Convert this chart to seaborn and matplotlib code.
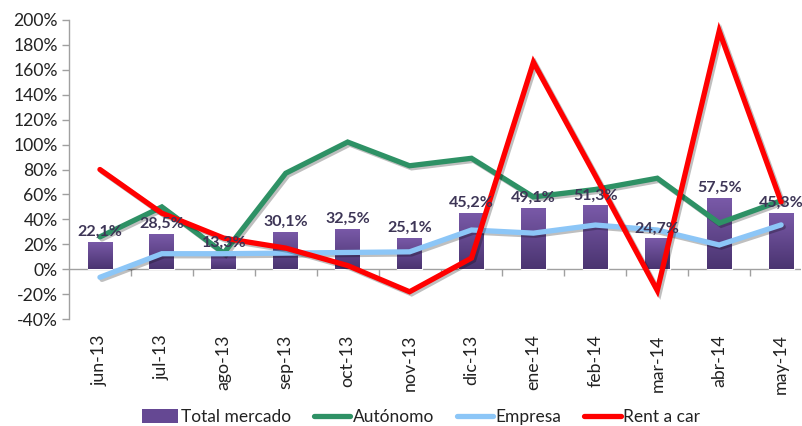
import numpy as np
import pandas as pd
import matplotlib
matplotlib.use("Agg")
import matplotlib.pyplot as plt
import matplotlib.patheffects as pe
from matplotlib.lines import Line2D
from matplotlib.patches import Patch
import seaborn as sns

months = ["jun-13", "jul-13", "ago-13", "sep-13", "oct-13", "nov-13",
          "dic-13", "ene-14", "feb-14", "mar-14", "abr-14", "may-14"]
total_mercado = [22.1, 28.5, 13.3, 30.1, 32.5, 25.1, 45.2, 49.1, 51.3, 24.7, 57.5, 45.3]
autonomo = [26, 50, 13, 77, 102, 83, 89, 58, 64, 73, 37, 55]
empresa = [-6.4, 12.5, 12.5, 13, 13.5, 14, 31.5, 29, 35.5, 31.5, 19.5, 35.6]
rent_a_car = [80, 45, 25, 17, 3, -18, 9, 166, 75, -17, 191, 54]
y_ticks = list(range(-40, 201, 20))

sns.set_theme(style="white")
plt.rcParams["font.family"] = ["Lato", "DejaVu Sans"]

df = pd.DataFrame({"month": months, "pos": np.arange(len(months)),
                   "Total mercado": total_mercado, "Autónomo": autonomo,
                   "Empresa": empresa, "Rent a car": rent_a_car})

fig = plt.figure(figsize=(8.02, 4.26), dpi=100)
ax = fig.add_axes([0.086, 0.2507, 0.9127, 0.7028])

bar_color = "#654893"
sns.barplot(data=df, x="month", y="Total mercado", color=bar_color,
            width=0.4, saturation=1, ax=ax, zorder=2)

# vertical gradient on bars
grad = np.linspace(0, 1, 256).reshape(-1, 1)
cmap = matplotlib.colors.LinearSegmentedColormap.from_list(
    "g", ["#4a3470", "#7a5aa9"])
for p in list(ax.patches):
    x0, y0 = p.get_x(), p.get_y()
    w, h = p.get_width(), p.get_height()
    im = ax.imshow(grad, extent=[x0, x0 + w, y0, y0 + h], origin="lower",
                   cmap=cmap, aspect="auto", zorder=2.1)
    im.set_clip_path(p)

shadow = [pe.SimpleLineShadow(offset=(1.5, -1.5), alpha=0.25, shadow_color="black"),
          pe.Normal()]
series = [("Autónomo", "#2E9165"), ("Empresa", "#8CC6F7"), ("Rent a car", "#FF0000")]
for name, col in series:
    sns.lineplot(data=df, x="pos", y=name, color=col, linewidth=3.8, ax=ax,
                 zorder=3, solid_joinstyle="miter", path_effects=shadow)

for i, v in enumerate(total_mercado):
    ax.annotate(f"{v:.1f}%".replace(".", ","), (i, v), xytext=(0, 2),
                textcoords="offset points", ha="center", va="bottom",
                fontsize=11.5, fontweight="bold", color="#3d3556", zorder=4)

ax.set_xlim(-0.5, 11.32)
ax.set_ylim(-40, 200)
ax.set_yticks(y_ticks)
ax.set_yticklabels([f"{t}%" for t in y_ticks])
ax.set_xticks(np.arange(len(months)))
ax.set_xticklabels(months, rotation=90)
ax.set_xlabel("")
ax.set_ylabel("")
ax.tick_params(axis="y", left=True, length=5, width=1, color="#a0a0a0",
               labelsize=12.6, labelcolor="#222222", pad=3)
ax.tick_params(axis="x", bottom=False, length=0, labelsize=12.8,
               labelcolor="#222222", pad=11)
for s in ["top", "right", "bottom"]:
    ax.spines[s].set_visible(False)
ax.spines["left"].set_color("#a0a0a0")
ax.spines["left"].set_linewidth(1)
ax.axhline(0, color="#a0a0a0", lw=1, zorder=1.5)
ax.vlines(np.arange(len(months)) + 0.5, -5, 0, color="#a0a0a0", lw=1, zorder=1.5)
ax.grid(False)
if ax.get_legend():
    ax.get_legend().remove()

handles = [Patch(facecolor=bar_color, edgecolor="none")] + \
          [Line2D([0], [0], color=c, lw=3.8) for _, c in series]
labels = ["Total mercado"] + [n for n, _ in series]
fig.legend(handles, labels, loc="center", bbox_to_anchor=(0.525, 0.021),
           ncol=4, frameon=False, fontsize=12.5, handlelength=2.1,
           handleheight=0.8, handletextpad=0.15, columnspacing=1.3,
           labelcolor="#222222")

fig.savefig("out.png", dpi=100, facecolor="white")
